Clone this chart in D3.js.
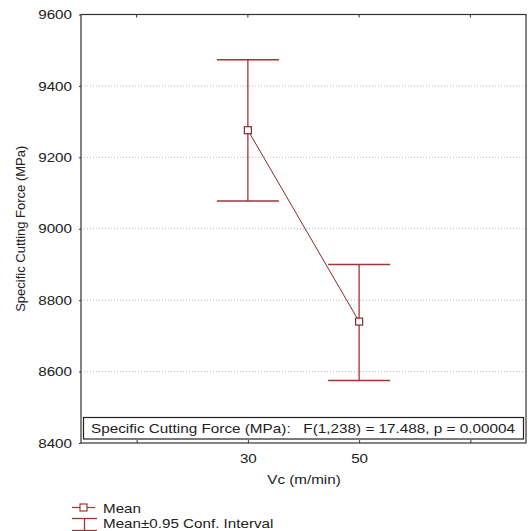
<!DOCTYPE html>
<html>
<head>
<meta charset="utf-8">
<script src="https://cdn.jsdelivr.net/npm/d3@7"></script>
<style>
  body { margin: 0; background: #fff; }
  text { font-family: "Liberation Sans", Arial, sans-serif; fill: #222; white-space: pre; }
</style>
</head>
<body>
<script>
// data
var categories = ["", "30", "50", " "];
var vcLevels = ["30", "50"];
var means = [9276, 8740];
var upper = [9473, 8900];
var lower = [9078, 8575];
var yTicks = [8400, 8600, 8800, 9000, 9200, 9400, 9600];
var statText = "Specific Cutting Force (MPa):   F(1,238) = 17.488, p = 0.00004";

var width = 528, height = 531;
var margin = {top: 14.5, right: 2, bottom: 88, left: 81};
var red = "#9e3538";
var sx = 1.17; // the picture's text is a bit wider than the font

var svg = d3.select("body").append("svg")
    .attr("width", width)
    .attr("height", height);

// horizontal text, widened
function label(g, x, y, str, anchor) {
  return g.append("text")
      .attr("transform", "translate(" + x + "," + y + ") scale(" + sx + ",1)")
      .attr("text-anchor", anchor || "start")
      .style("font-size", "13px")
      .text(str);
}

var x = d3.scalePoint()
    .domain(categories)
    .range([margin.left, width - margin.right])
    .padding(0.5);

var y = d3.scaleLinear()
    .domain([8400, 9600])
    .range([height - margin.bottom, margin.top]);

var x0 = margin.left, x1 = width - margin.right;
var y0 = height - margin.bottom, y1 = margin.top;

// grid
svg.append("g")
  .selectAll("line")
  .data(yTicks.slice(1, -1))
  .enter().append("line")
    .attr("x1", x0).attr("x2", x1)
    .attr("y1", function(d) { return y(d); })
    .attr("y2", function(d) { return y(d); })
    .style("stroke", "#bbb")
    .style("stroke-width", 1)
    .style("stroke-dasharray", "1,2");

// y axis
var yAxis = svg.append("g")
    .attr("transform", "translate(" + x0 + ",0)")
    .call(d3.axisLeft(y).tickValues(yTicks).tickFormat(d3.format("d")).tickSize(2));
yAxis.select(".domain").remove();
yAxis.selectAll("text")
    .attr("x", 0)
    .attr("transform", "translate(-9,0) scale(" + sx + ",1)")
    .style("font-size", "13px").style("font-family", "Liberation Sans, Arial, sans-serif").style("fill", "#222");
yAxis.selectAll("line").style("stroke", "#333");

// x axis labels
var xAxis = svg.append("g")
    .attr("transform", "translate(0," + y0 + ")")
    .call(d3.axisBottom(x).tickSize(-3).tickPadding(11));
xAxis.select(".domain").remove();
xAxis.selectAll("text")
    .attr("y", 0)
    .attr("transform", "translate(0,11) scale(" + sx + ",1)")
    .style("font-size", "13px").style("font-family", "Liberation Sans, Arial, sans-serif").style("fill", "#222");
xAxis.selectAll("line").style("stroke", "#333");

// top ticks
svg.append("g")
  .selectAll("line")
  .data(categories)
  .enter().append("line")
    .attr("x1", function(d) { return x(d); })
    .attr("x2", function(d) { return x(d); })
    .attr("y1", y1).attr("y2", y1 + 3)
    .style("stroke", "#333");

// frame
svg.append("rect")
    .attr("x", x0).attr("y", y1)
    .attr("width", x1 - x0).attr("height", y0 - y1)
    .style("fill", "none")
    .style("stroke", "#333")
    .style("stroke-width", 1.2);

// error bars
var capW = 31;
vcLevels.forEach(function(c, i) {
  var cx = x(c);
  svg.append("line")
      .attr("x1", cx).attr("x2", cx)
      .attr("y1", y(upper[i])).attr("y2", y(lower[i]))
      .style("stroke", red).style("stroke-width", 1.3);
  [upper[i], lower[i]].forEach(function(v) {
    svg.append("line")
        .attr("x1", cx - capW).attr("x2", cx + capW)
        .attr("y1", y(v)).attr("y2", y(v))
        .style("stroke", red).style("stroke-width", 1.5);
  });
});

// mean line
var line = d3.line()
    .x(function(d, i) { return x(vcLevels[i]); })
    .y(function(d) { return y(d); });

svg.append("path")
    .datum(means)
    .attr("d", line)
    .style("fill", "none")
    .style("stroke", "#8a2a2d")
    .style("stroke-width", 1);

svg.selectAll(".pt")
    .data(means)
  .enter().append("rect")
    .attr("class", "pt")
    .attr("x", function(d, i) { return x(vcLevels[i]) - 3.5; })
    .attr("y", function(d) { return y(d) - 3.5; })
    .attr("width", 7).attr("height", 7)
    .style("fill", "#fff")
    .style("stroke", "#8a2a2d")
    .style("stroke-width", 1.2);

// stat box
svg.append("rect")
    .attr("x", x0 + 2.5).attr("y", 417.5)
    .attr("width", x1 - x0 - 5).attr("height", 21.5)
    .style("fill", "#fff")
    .style("stroke", "#222")
    .style("stroke-width", 1.2);

label(svg, 91, 433, statText)
    .attr("textLength", 424 / sx)
    .attr("lengthAdjust", "spacingAndGlyphs");

// axis titles
label(svg, 304, 484, "Vc (m/min)", "middle");

svg.append("text")
    .attr("transform", "translate(25," + ((y0 + y1) / 2) + ") rotate(-90)")
    .attr("text-anchor", "middle")
    .style("font-size", "13px")
    .text("Specific Cutting Force (MPa)");

// legend
var lg = svg.append("g");
lg.append("line").attr("x1", 72).attr("x2", 95).attr("y1", 507.5).attr("y2", 507.5)
    .style("stroke", red).style("stroke-width", 1.2);
lg.append("rect").attr("x", 80).attr("y", 504).attr("width", 7).attr("height", 7)
    .style("fill", "#fff").style("stroke", red).style("stroke-width", 1.2);
label(lg, 103, 512.5, "Mean");

lg.append("line").attr("x1", 72).attr("x2", 97).attr("y1", 518.5).attr("y2", 518.5)
    .style("stroke", red).style("stroke-width", 1.3);
lg.append("line").attr("x1", 84.5).attr("x2", 84.5).attr("y1", 518.5).attr("y2", 531)
    .style("stroke", red).style("stroke-width", 1.3);
lg.append("line").attr("x1", 72).attr("x2", 97).attr("y1", 530.5).attr("y2", 530.5)
    .style("stroke", red).style("stroke-width", 1.3);
label(lg, 103, 527.5, "Mean\u00B10.95 Conf. Interval");
</script>
</body>
</html>
